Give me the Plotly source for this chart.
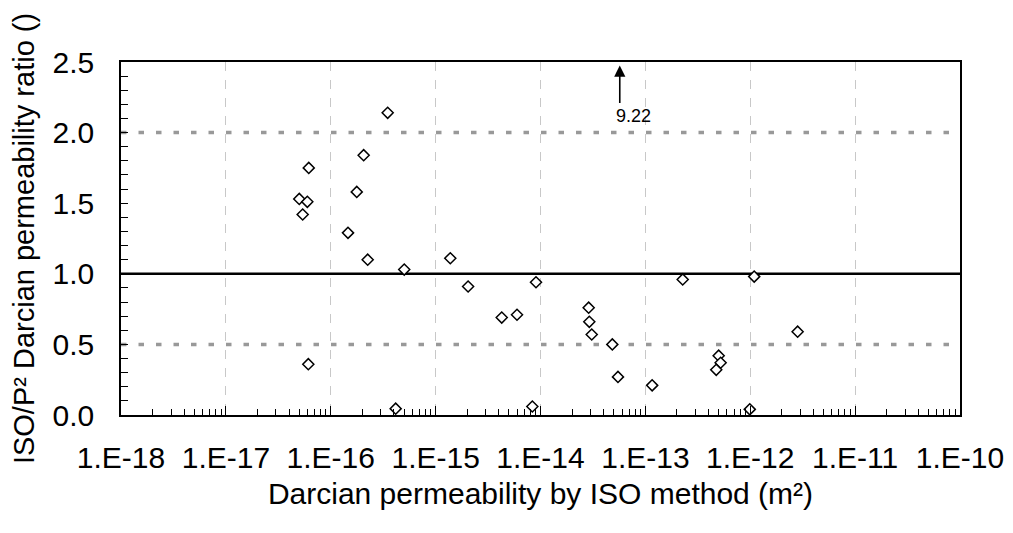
import math
import plotly.graph_objects as go

# Darcian permeability by ISO method (m^2) and ISO/P2 ratio
k_iso = [3.49e-16, 2.06e-16, 6.17e-17, 1.77e-16, 5.01e-17, 5.98e-17, 5.40e-17,
         1.46e-16, 2.25e-16, 1.38e-15, 5.02e-16, 2.04e-15, 9.06e-15, 4.27e-15,
         5.97e-15, 6.11e-17, 4.16e-16, 8.36e-15, 2.27e-13, 1.09e-12, 2.88e-14,
         2.92e-14, 3.08e-14, 4.84e-14, 5.48e-14, 1.16e-13, 5.00e-13, 5.22e-13,
         4.74e-13, 2.83e-12, 9.89e-13]
ratio = [2.14, 1.84, 1.75, 1.58, 1.53, 1.51, 1.42,
         1.29, 1.10, 1.11, 1.03, 0.91, 0.94, 0.69,
         0.71, 0.36, 0.045, 0.06, 0.96, 0.98, 0.76,
         0.66, 0.57, 0.50, 0.27, 0.21, 0.42, 0.37,
         0.32, 0.59, 0.04]

# point off the top of the chart
outlier_k = 5.7e-14
outlier_ratio = 9.22

# reference lines
unity = 1.0
bounds = [2.0, 0.5]

decades = [10.0 ** e for e in range(-18, -9)]
decade_labels = ["1.E%d" % e for e in range(-18, -9)]

FONT = "Liberation Sans, Arial, sans-serif"
BIG = 30

fig = go.Figure()

# white-filled diamonds so the reference lines don't show through
fig.add_trace(go.Scatter(
    x=k_iso, y=ratio, mode="markers",
    marker=dict(symbol="diamond", size=8.5, color="white",
                line=dict(color="black", width=1.5)),
    showlegend=False))

for b in bounds:
    fig.add_hline(y=b, layer="below",
                  line=dict(color="#999999", width=3.5, dash="5.5px,12px"))
fig.add_hline(y=unity, layer="below", line=dict(color="black", width=2.5))

# arrow for the off-scale value (log axis -> annotation x in log10 units)
ox = math.log10(outlier_k)
fig.add_annotation(x=ox, y=2.475, xref="x", yref="y", text=" ",
                   showarrow=True, arrowhead=2, arrowsize=1.4, arrowwidth=1.6,
                   arrowcolor="black", ax=0, ay=46, standoff=0, startstandoff=0)
fig.add_annotation(x=ox, y=2.12, xref="x", yref="y",
                   text="%.2f" % outlier_ratio, showarrow=False,
                   xanchor="left", xshift=-6, yanchor="middle",
                   font=dict(size=18, color="black", family=FONT))

fig.update_xaxes(
    type="log", range=[-18, -10],
    tickvals=decades, ticktext=decade_labels,
    ticks="inside", ticklen=9, tickcolor="black", tickwidth=1,
    minor=dict(ticks="inside", ticklen=6, tickcolor="black", dtick="D1",
               showgrid=False),
    showgrid=True, gridcolor="#c8c8c8", griddash="dash", gridwidth=1,
    showline=True, linecolor="black", linewidth=1.5, mirror=True,
    zeroline=False, ticklabelstandoff=15,
    tickfont=dict(size=BIG, color="black", family=FONT),
    title=dict(text="Darcian permeability by ISO method (m²)", standoff=10,
               font=dict(size=BIG, color="black", family=FONT)))

fig.update_yaxes(
    range=[0, 2.5], dtick=0.5, tickformat=".1f",
    ticks="inside", ticklen=7, tickcolor="black", tickwidth=1,
    minor=dict(ticks="inside", ticklen=7, tickcolor="black", dtick=0.1,
               showgrid=False),
    showgrid=False, zeroline=False,
    showline=True, linecolor="black", linewidth=1.5, mirror=True,
    ticklabelstandoff=19,
    tickfont=dict(size=BIG, color="black", family=FONT),
    title=dict(text="ISO/P² Darcian permeability ratio ()", standoff=12,
               font=dict(size=29, color="black", family=FONT)))

# page body adds an 8px offset, so margins are shifted to compensate
fig.update_layout(
    width=1013, height=533,
    margin=dict(l=113, r=61, t=54, b=126),
    plot_bgcolor="white", paper_bgcolor="white",
    font=dict(family=FONT, color="black"))

fig.write_html("out.html")
